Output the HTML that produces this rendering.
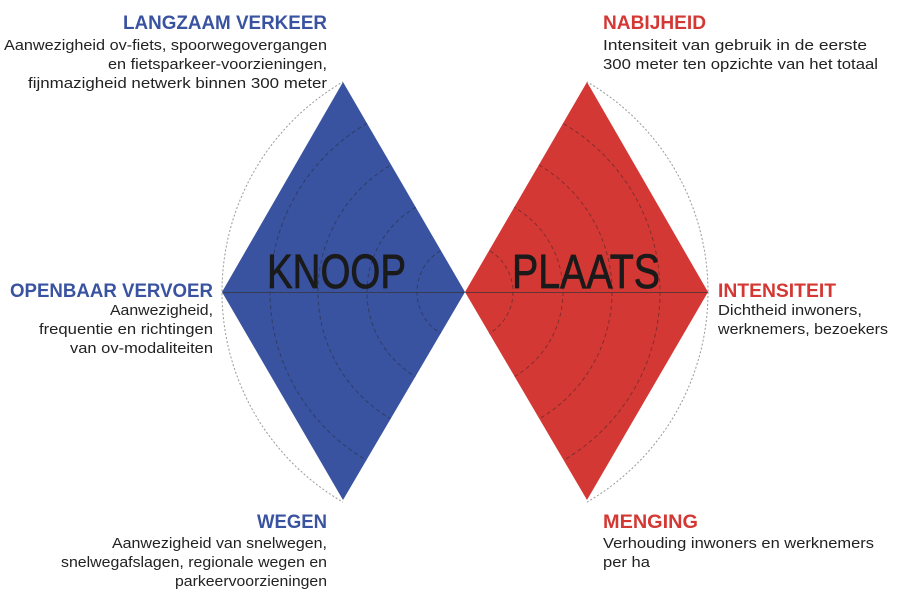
<!DOCTYPE html>
<html><head><meta charset="utf-8"><style>html,body{margin:0;padding:0;background:#fff}svg{display:block}</style></head>
<body>
<svg width="900" height="600" viewBox="0 0 900 600" xmlns="http://www.w3.org/2000/svg" font-family="Liberation Sans, sans-serif">
<defs>
<clipPath id="dia"><polygon points="343,82 222,292 343,500 465,292"/><polygon points="587,82 465,292 587,500 708,292"/></clipPath>
<clipPath id="outer"><rect x="0" y="0" width="343" height="600"/><rect x="587" y="0" width="313" height="600"/></clipPath>
</defs>
<rect width="900" height="600" fill="#fff"/>
<polygon points="343,82 222,292 343,500 465,292" fill="#3a53a0"/>
<polygon points="587,82 465,292 587,500 708,292" fill="#d43834"/>
<g fill="none">
<circle cx="465" cy="292" r="243" stroke="#999" stroke-width="1" stroke-dasharray="2,2" clip-path="url(#outer)"/>
<g clip-path="url(#dia)">
<g stroke="#222" stroke-opacity="0.45" stroke-width="1" stroke-dasharray="4,3">
<circle cx="465" cy="292" r="195"/>
<circle cx="465" cy="292" r="147"/>
<circle cx="465" cy="292" r="98"/>
<circle cx="465" cy="292" r="48"/>
</g>
<line x1="222" y1="292.5" x2="708" y2="292.5" stroke="#333" stroke-opacity="0.7" stroke-width="1"/>
</g>
</g>
<g font-size="48" fill="#1a1a1a" stroke="#1a1a1a" stroke-width="0.8">
<text x="267" y="288" textLength="139" lengthAdjust="spacingAndGlyphs">KNOOP</text>
<text x="512" y="288" textLength="148" lengthAdjust="spacingAndGlyphs">PLAATS</text>
</g>
<g font-size="19" font-weight="bold">
<text x="123" y="29" fill="#3a53a0" textLength="204" lengthAdjust="spacingAndGlyphs">LANGZAAM VERKEER</text>
<text x="603" y="29" fill="#d43834" textLength="103" lengthAdjust="spacingAndGlyphs">NABIJHEID</text>
<text x="10" y="297" fill="#3a53a0" textLength="203" lengthAdjust="spacingAndGlyphs">OPENBAAR VERVOER</text>
<text x="718" y="297" fill="#d43834" textLength="118" lengthAdjust="spacingAndGlyphs">INTENSITEIT</text>
<text x="257" y="528" fill="#3a53a0" textLength="70" lengthAdjust="spacingAndGlyphs">WEGEN</text>
<text x="603" y="528" fill="#d43834" textLength="95" lengthAdjust="spacingAndGlyphs">MENGING</text>
</g>
<g font-size="15" fill="#222">
<text x="4" y="50" textLength="323" lengthAdjust="spacingAndGlyphs">Aanwezigheid ov-fiets, spoorwegovergangen</text>
<text x="108" y="69" textLength="219" lengthAdjust="spacingAndGlyphs">en fietsparkeer-voorzieningen,</text>
<text x="28" y="88" textLength="299" lengthAdjust="spacingAndGlyphs">fijnmazigheid netwerk binnen 300 meter</text>
<text x="603" y="50" textLength="264" lengthAdjust="spacingAndGlyphs">Intensiteit van gebruik in de eerste</text>
<text x="603" y="69" textLength="275" lengthAdjust="spacingAndGlyphs">300 meter ten opzichte van het totaal</text>
<text x="110" y="315" textLength="103" lengthAdjust="spacingAndGlyphs">Aanwezigheid,</text>
<text x="39" y="334" textLength="174" lengthAdjust="spacingAndGlyphs">frequentie en richtingen</text>
<text x="70" y="353" textLength="143" lengthAdjust="spacingAndGlyphs">van ov-modaliteiten</text>
<text x="718" y="315" textLength="144" lengthAdjust="spacingAndGlyphs">Dichtheid inwoners,</text>
<text x="718" y="334" textLength="170" lengthAdjust="spacingAndGlyphs">werknemers, bezoekers</text>
<text x="112" y="548" textLength="215" lengthAdjust="spacingAndGlyphs">Aanwezigheid van snelwegen,</text>
<text x="61" y="567" textLength="266" lengthAdjust="spacingAndGlyphs">snelwegafslagen, regionale wegen en</text>
<text x="175" y="586" textLength="152" lengthAdjust="spacingAndGlyphs">parkeervoorzieningen</text>
<text x="603" y="548" textLength="271" lengthAdjust="spacingAndGlyphs">Verhouding inwoners en werknemers</text>
<text x="603" y="567" textLength="47" lengthAdjust="spacingAndGlyphs">per ha</text>
</g>
</svg>
</body></html>
